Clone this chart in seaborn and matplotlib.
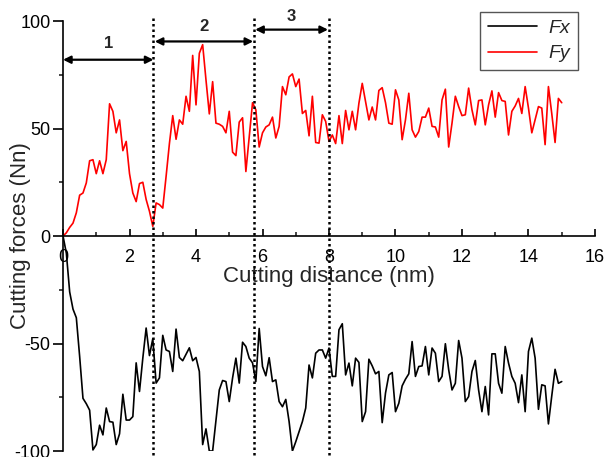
import numpy as np
import pandas as pd
import matplotlib
matplotlib.use("Agg")
import matplotlib.pyplot as plt
from matplotlib.ticker import MultipleLocator
from matplotlib.lines import Line2D
import seaborn as sns

# ---- data -------------------------------------------------------------
distance = [round(0.1 * i, 1) for i in range(151)]

fy = [0, 1.5, 4, 6, 10.8, 19, 20, 24.7, 35, 35.5,
      29, 35, 29, 35.5, 61.5, 58, 48, 54, 39.7, 44,
      29, 20, 16, 24.4, 25, 17, 11.5, 4.5, 15.4, 14.6,
      13, 27.7, 43, 56, 45, 54, 52, 65, 58, 84,
      61, 85, 89, 72.6, 56.8, 71.8, 52.5, 52, 51, 48,
      58, 39, 37.4, 53, 55, 30, 46, 62, 58.7, 41.4,
      48, 50.7, 51.7, 55.3, 45.6, 51, 69.5, 65.7, 74, 75.4,
      69.5, 73, 57, 58.4, 46.6, 65, 43.5, 43.2, 56.4, 53.3,
      44, 47, 43, 56, 43, 58.4, 49.4, 58, 49.4, 61.8,
      71, 62.6, 54, 60, 54, 67.7, 69, 62, 52.5, 52,
      68, 63.3, 44.8, 54, 66.4, 49.4, 46, 48.6, 55.3, 55.3,
      59.5, 51, 50.7, 46, 63.3, 68.3, 41.4, 52.5, 65, 60.2,
      56, 56.4, 68.8, 58.7, 51.7, 63, 63.3, 51.7, 61, 67.5,
      55.3, 66.7, 63, 62.6, 47, 58, 60.5, 64, 57, 69.5,
      59.5, 48, 54, 60.2, 59.5, 42.5, 69.5, 57, 43.5, 64,
      62]

fx = [0, -8, -26, -34, -38, -56, -75.5, -78, -81, -99.5,
      -97, -88, -92.5, -80, -86.3, -86.6, -97, -92, -73.6, -85.6,
      -85.6, -84, -59, -72.3, -56.8, -42.8, -55.6, -47.8, -68.4, -66,
      -46.2, -53, -53.7, -63, -43.3, -56.5, -58, -55, -52, -58,
      -56.5, -63, -97, -89.7, -100, -100, -86, -71.6, -67.2, -67.7,
      -77, -66, -56.8, -68.4, -49.4, -51.4, -56.8, -59, -67.7, -43,
      -60.7, -65, -56.6, -67.7, -66.9, -77, -79.4, -76, -86.3, -100,
      -95.7, -91, -86.3, -80, -60, -66, -54.5, -53, -53, -56.8,
      -52.1, -65.3, -65.3, -43.6, -40.8, -64.6, -59.1, -69.7, -56.8, -58.8,
      -86.3, -81.7, -57.3, -60.4, -64.1, -63, -86.8, -73, -64.6, -63.5,
      -81.7, -77.8, -69.7, -66.6, -64.1, -49.1, -65.3, -60.7, -60.4, -51.4,
      -64.6, -52.1, -54.5, -67.7, -65.3, -50.1, -62.2, -71.6, -68.5, -48.6,
      -56.8, -77, -74.7, -63, -57.9, -71.6, -81.7, -70, -83.2, -54.8,
      -54.8, -68.5, -73.1, -51.4, -59.1, -65.3, -68.5, -77.5, -64.6, -81.7,
      -53.7, -47.5, -56.8, -80.6, -69.2, -69.7, -87.4, -74.4, -62, -68.5,
      -67.7]

series_names = ["Fx", "Fy"]
series_colors = ["black", "red"]

boundaries = [2.72, 5.75, 8.0]
stage_labels = ["1", "2", "3"]
stage_spans = [(0.0, 2.72), (2.76, 5.72), (5.78, 7.97)]
stage_arrow_y = [82, 90.5, 96]
stage_label_y = [89.5, 97.5, 102]

# ---- plot -------------------------------------------------------------
sns.set_style("ticks")
plt.rcParams["font.family"] = ["Liberation Sans", "DejaVu Sans"]
plt.rcParams["axes.unicode_minus"] = False

df = pd.DataFrame({
    "distance": distance * 2,
    "force": fx + fy,
    "series": ["Fx"] * len(fx) + ["Fy"] * len(fy),
})

fig = plt.figure(figsize=(6.06, 4.57), dpi=100)
ax = fig.add_axes([0.1040, 0.0131, 0.8778, 0.9409])

sns.lineplot(data=df, x="distance", y="force", hue="series",
             hue_order=series_names,
             palette=dict(zip(series_names, series_colors)),
             linewidth=1.2, ax=ax, legend=False, estimator=None)

ax.set_xlim(0, 16)
ax.set_ylim(-100, 100)

# spines
ax.spines["top"].set_visible(False)
ax.spines["right"].set_visible(False)
ax.spines["bottom"].set_position(("data", 0))
for s in ("left", "bottom"):
    ax.spines[s].set_linewidth(1.2)
    ax.spines[s].set_color("black")

ax.xaxis.set_major_locator(MultipleLocator(2))
ax.xaxis.set_minor_locator(MultipleLocator(1))
ax.yaxis.set_major_locator(MultipleLocator(50))
ax.yaxis.set_minor_locator(MultipleLocator(25))

ax.tick_params(axis="x", which="major", direction="in", length=5, width=1.2,
               pad=9, labelsize=13, colors="black")
ax.tick_params(axis="x", which="minor", direction="in", length=3, width=1.2)
ax.tick_params(axis="y", which="major", direction="out", length=7, width=1.2,
               pad=2, labelsize=13, colors="black")
ax.tick_params(axis="y", which="minor", direction="out", length=3, width=1.2)

ax.set_xlabel("Cutting distance (nm)", fontsize=16, labelpad=0)
ax.set_ylabel("Cutting forces (Nn)", fontsize=16)
ax.yaxis.set_label_coords(-0.061, 0.5)

# stage boundaries
for b in boundaries:
    ax.vlines(b, -102, 102, colors="black", linestyles=(0, (1, 1.2)),
              linewidth=1.8, clip_on=False, zorder=3)

# stage arrows and labels
for (x0, x1), ya, yl, lab in zip(stage_spans, stage_arrow_y, stage_label_y, stage_labels):
    ax.annotate("", xy=(x1, ya), xytext=(x0, ya),
                arrowprops=dict(arrowstyle="<|-|>", color="black", lw=1.6,
                                mutation_scale=11, shrinkA=0, shrinkB=0),
                annotation_clip=False)
    ax.text((x0 + x1) / 2, yl, lab, ha="center", va="center",
            fontsize=12, fontweight="bold")

# legend
handles = [Line2D([], [], color=c, lw=1.2) for c in series_colors]
leg = ax.legend(handles, series_names, loc="upper right",
                bbox_to_anchor=(0.968, 1.022), frameon=True, fancybox=False,
                edgecolor="#555555", framealpha=1, handlelength=2.5,
                prop={"style": "italic", "size": 14, "family": "Liberation Sans"},
                borderpad=0.4, labelspacing=0.4, handletextpad=0.6,
                borderaxespad=0)
leg.get_frame().set_linewidth(1.0)

fig.savefig("out.png", dpi=100)
